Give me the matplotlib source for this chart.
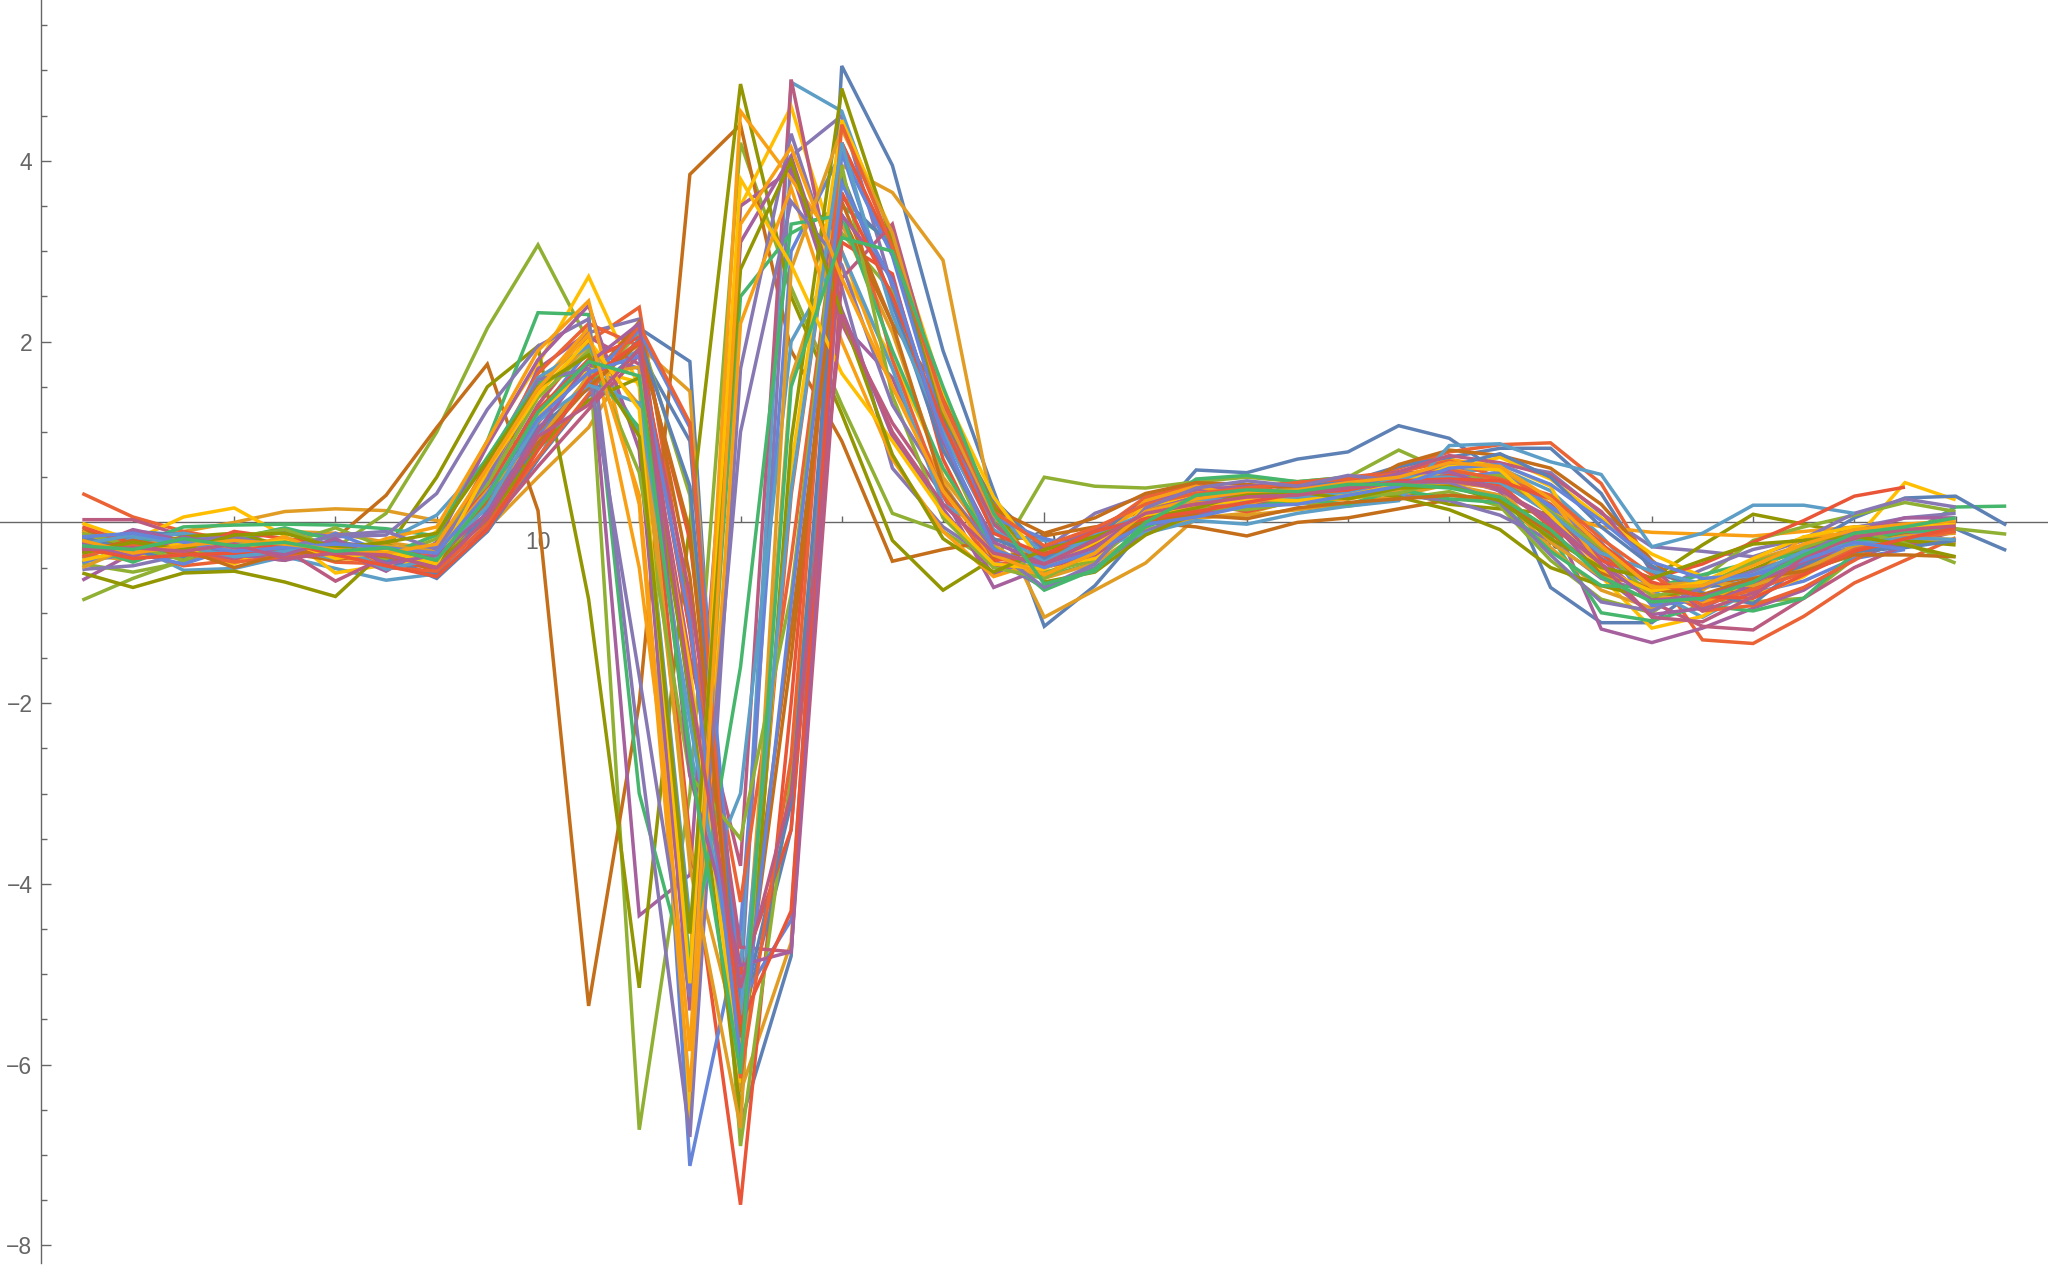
import matplotlib
matplotlib.use("Agg")
import matplotlib.pyplot as plt

s00=[-0.30,-0.35,-0.38,-0.33,-0.28,-0.32,-0.40,-0.42,0.10,0.85, 1.60,2.15,1.78,-6.65,-4.80,5.05,3.95,1.90,0.35,-1.15, -0.70,-0.05,0.58,0.55,0.70,0.78,1.07,0.93,0.55,-0.72, -1.11,-1.11,-0.70,-0.45,-0.30,-0.20,-0.10,-0.07,-0.31]
s01=[-0.10,-0.20,-0.10,0.00,0.12,0.15,0.13,0.02,-0.07,0.50, 1.05,1.95,1.45,-6.30,-4.65,3.95,3.65,2.90,0.10,-1.05, -0.75,-0.45,0.05,0.10,0.25,0.30,0.40,0.55,0.60,0.20, -0.30,-0.70,-0.80,-0.70,-0.55,-0.35,-0.25,-0.20]
s02=[-0.86,-0.62,-0.42,-0.32,-0.20,-0.28,0.10,1.00,2.15,3.07, 2.00,-6.72,-3.00,4.20,2.60,1.30,0.10,-0.10,-0.45,0.50, 0.40,0.38,0.45,0.50,0.45,0.50,0.80,0.55,0.45,0.15, -0.30,-0.70,-0.85,-0.88,-0.84,-0.40,-0.20,-0.07,-0.13]
s03=[0.32,0.06,-0.10,-0.20,-0.30,-0.33,-0.40,-0.48,0.30,1.30, 2.00,2.38,-1.00,-6.00,0.30,4.20,3.00,1.30,0.20,-0.30, -0.10,0.15,0.30,0.38,0.45,0.45,0.60,0.78,0.86,0.88, 0.43,-0.50,-1.30,-1.34,-1.04,-0.67,-0.42,-0.17]
s04=[-0.25,-0.28,-0.35,-0.30,-0.22,-0.28,-0.33,-0.35,0.40,1.50, 2.10,2.25,-2.00,-5.20,4.05,4.50,2.60,1.00,0.00,-0.30, 0.10,0.30,0.35,0.30,0.35,0.40,0.50,0.55,0.65,0.55, 0.10,-0.27,-0.32,-0.38,-0.20,-0.10,-0.08,-0.05]
s05=[-0.22,-0.15,-0.28,-0.35,-0.42,-0.18,0.30,1.05,1.75,0.13, -5.35,-2.00,3.85,4.40,1.90,0.90,-0.43,-0.30,-0.20,-0.15, -0.05,0.00,-0.05,-0.15,0.00,0.05,0.15,0.25,0.30,-0.10, -0.55,-0.75,-0.70,-0.60,-0.40,-0.30,-0.25,-0.20]
s06=[-0.22,-0.25,-0.53,-0.51,-0.38,-0.51,-0.64,-0.57,-0.10,0.70, 1.65,1.90,-2.50,-5.00,4.87,4.55,3.00,1.10,0.10,-0.35, -0.20,0.10,0.20,0.28,0.25,0.30,0.38,0.55,0.60,0.35, -0.15,-0.75,-1.05,-0.75,-0.45,-0.30,-0.22,-0.19]
s07=[-0.01,-0.20,0.06,0.16,-0.15,-0.56,-0.47,-0.10,0.90,1.75, 2.72,1.50,-6.60,3.50,4.60,2.80,1.80,0.60,-0.35,-0.60, -0.20,0.20,0.35,0.30,0.28,0.32,0.40,0.60,0.65,0.40, -0.60,-1.17,-1.04,-0.70,-0.40,-0.20,0.44,0.25]
s08=[-0.64,-0.34,-0.30,-0.38,-0.34,-0.22,-0.28,-0.45,0.50,1.70, 2.10,-4.35,-3.90,3.50,3.90,2.20,1.60,0.30,-0.72,-0.50, -0.30,0.05,0.15,0.22,0.28,0.35,0.45,0.50,0.45,0.10, -1.18,-1.33,-1.17,-0.95,-0.75,-0.40,-0.20,-0.10]
s09=[-0.56,-0.72,-0.56,-0.54,-0.66,-0.82,-0.30,0.50,1.50,1.95, -0.85,-5.15,0.00,4.85,2.50,1.20,-0.20,-0.75,-0.40,-0.30, -0.10,0.05,0.10,0.20,0.25,0.30,0.35,0.20,0.15,0.10, -0.40,-0.62,-0.25,0.09,-0.02,-0.13]
s10=[-0.30,-0.32,-0.40,-0.36,-0.30,-0.36,-0.45,-0.50,0.20,1.10, 1.80,2.05,-3.50,-7.55,-2.00,4.20,3.00,1.20,0.00,-0.50, -0.35,0.05,0.20,0.25,0.25,0.35,0.48,0.50,0.40,0.20, -0.35,-0.70,-0.85,-0.75,-0.45,-0.15,-0.08,-0.05]
s11=[-0.12,-0.18,-0.30,-0.26,-0.20,-0.25,-0.33,-0.42,0.25,1.20, 1.90,1.70,-7.12,-4.50,3.00,4.10,2.40,1.00,-0.10,-0.45, -0.25,0.00,0.15,0.20,0.25,0.30,0.40,0.50,0.55,0.15, -0.40,-0.70,-0.80,-0.78,-0.65,-0.40,-0.30]
s12=[-0.18,-0.30,-0.28,-0.18,-0.30,-0.40,-0.42,-0.28,0.50,1.50, 2.15,-0.50,-4.90,4.55,3.80,3.00,1.50,0.45,-0.45,-0.60, -0.30,0.10,0.30,0.35,0.30,0.40,0.55,0.70,0.60,0.10, -0.05,-0.11,-0.13,-0.15,-0.10,-0.05,-0.02,0.00]
s13=[0.03,0.03,-0.15,-0.22,-0.30,-0.65,-0.38,-0.30,0.35,1.30, 2.05,1.75,-1.50,-3.80,4.90,2.20,1.10,0.30,-0.50,-0.40, -0.10,0.05,0.25,0.30,0.35,0.40,0.42,0.50,0.35,0.05, -0.40,-0.88,-1.15,-1.19,-0.84,-0.50,-0.25,-0.10]
s14=[-0.45,-0.25,-0.05,-0.03,-0.02,-0.03,-0.07,-0.15,0.90,2.32, 2.30,-3.00,-5.10,2.50,3.20,3.50,3.10,1.30,0.00,-0.60, -0.45,0.10,0.48,0.52,0.45,0.50,0.45,0.40,0.30,-0.15, -1.00,-1.09,-0.92,-0.98,-0.84,-0.34,-0.15,0.17,0.18]
s15=[-0.24,-0.10,-0.14,-0.22,-0.30,-0.26,-0.38,-0.62,-0.10,0.70, 1.40,1.90,0.90,-5.60,-3.40,3.60,3.05,1.15,0.25,-0.30, -0.15,0.25,0.38,0.30,0.40,0.45,0.62,0.72,0.82,0.82, 0.32,-0.55,-0.72,-0.65,-0.28,0.05,0.27,0.29,-0.03]
s16=[-0.36,-0.42,-0.25,-0.15,-0.10,-0.12,-0.22,-0.30,0.55,1.45, 1.95,1.30,-3.60,-5.80,1.60,3.30,2.10,0.50,-0.25,-0.62, -0.45,-0.08,0.05,0.08,0.14,0.20,0.30,0.42,0.30,-0.28, -0.75,-0.95,-0.75,-0.42,-0.25,-0.10,-0.18,-0.22]
s17=[-0.46,-0.55,-0.44,-0.30,-0.24,-0.06,-0.28,-0.48,0.20,0.95, 1.50,2.10,0.30,-6.90,-2.80,3.20,2.55,0.85,-0.35,-0.55, -0.42,0.02,0.18,0.26,0.22,0.18,0.26,0.34,0.18,-0.42, -0.85,-1.00,-0.62,-0.20,-0.05,0.08,0.22,0.12]
s18=[-0.14,-0.30,-0.48,-0.42,-0.28,-0.44,-0.46,-0.34,0.65,1.65, 2.20,1.95,-1.20,-4.20,-0.40,3.85,1.80,0.30,-0.48,-0.35, -0.12,0.28,0.42,0.34,0.44,0.50,0.56,0.68,0.50,0.28, -0.30,-0.68,-0.98,-0.92,-0.72,-0.42,-0.10,-0.02]
s19=[-0.52,-0.48,-0.36,-0.20,-0.10,-0.16,-0.14,0.32,1.25,1.95, 2.25,-2.50,-6.80,1.70,4.30,2.60,0.60,-0.05,-0.42,-0.72, -0.50,-0.10,0.12,0.28,0.36,0.44,0.30,0.24,0.08,-0.20, -0.62,-0.78,-0.52,-0.30,-0.18,0.10,0.26,0.17]
s20=[-0.08,-0.22,-0.38,-0.18,-0.34,-0.42,-0.30,-0.56,0.08,1.00, 1.55,2.22,-0.60,-5.40,-1.20,3.40,2.20,1.40,0.15,-0.12, 0.05,0.32,0.44,0.42,0.38,0.34,0.64,0.80,0.74,0.60, 0.20,-0.42,-0.88,-0.70,-0.50,-0.25,-0.12,-0.08]
s21=[-0.40,-0.18,-0.12,-0.22,-0.30,-0.40,-0.20,0.08,0.70,1.60, 1.95,1.00,-4.40,-3.00,2.00,3.00,1.70,0.20,-0.12,-0.20, -0.28,-0.12,0.02,-0.02,0.10,0.18,0.24,0.85,0.87,0.67, 0.53,-0.27,-0.12,0.19,0.19,0.10]
s22=[-0.20,-0.36,-0.28,-0.46,-0.22,-0.34,-0.50,-0.36,0.30,1.20, 1.70,1.55,-1.60,-6.20,0.60,4.45,3.20,1.45,0.28,-0.48, -0.40,0.18,0.30,0.22,0.30,0.28,0.52,0.58,0.72,0.48, 0.05,-0.35,-0.60,-0.82,-0.60,-0.22,-0.16,-0.19]
s23=[-0.30,-0.08,-0.20,-0.36,-0.42,-0.30,-0.54,-0.22,0.85,1.80, 2.40,0.80,-5.40,3.10,4.05,2.35,0.95,0.15,-0.58,-0.28, -0.08,0.22,0.36,0.40,0.42,0.36,0.48,0.66,0.34,0.02, -0.58,-1.02,-0.95,-0.68,-0.32,-0.05,-0.02,-0.10]
s24=[-0.18,-0.28,-0.16,-0.12,-0.26,-0.34,-0.24,-0.44,0.02,0.82, 1.35,1.60,-1.90,-6.55,0.90,4.80,3.10,1.20,0.18,-0.66, -0.55,-0.14,0.10,0.18,0.26,0.38,0.28,0.14,-0.08,-0.50, -0.70,-0.84,-0.72,-0.52,-0.28,-0.10,-0.20,-0.25]
s25=[-0.05,-0.24,-0.32,-0.10,-0.18,-0.24,-0.44,-0.38,0.40,1.25, 1.80,2.05,-0.20,-5.00,-3.40,3.10,2.75,0.70,-0.42,-0.38, -0.20,0.08,0.22,0.12,0.24,0.34,0.44,0.52,0.42,-0.05, -0.42,-0.62,-0.46,-0.22,0.02,0.29,0.39]
s26=[-0.44,-0.34,-0.46,-0.28,-0.36,-0.12,-0.34,-0.28,0.15,0.95, 1.60,2.12,1.05,-5.30,-4.40,4.10,2.95,1.05,0.05,-0.18, -0.30,0.12,0.28,0.36,0.32,0.44,0.38,0.46,0.56,0.18, -0.22,-0.92,-0.86,-0.60,-0.40,-0.28,-0.15,-0.07]
s27=[-0.10,-0.40,-0.22,-0.30,-0.16,-0.38,-0.18,-0.05,0.90,1.90, 2.45,0.20,-6.30,2.20,3.70,2.00,0.70,-0.10,-0.60,-0.42, -0.24,0.24,0.40,0.28,0.22,0.26,0.34,0.60,0.46,0.28, -0.48,-0.80,-0.90,-0.62,-0.16,-0.12,-0.08,-0.02]
s28=[-0.34,-0.20,-0.34,-0.40,-0.26,-0.36,-0.30,-0.52,-0.05,0.62, 1.25,1.85,-0.80,-4.70,-4.75,2.70,3.30,1.30,-0.02,-0.50, -0.36,0.00,0.08,0.20,0.30,0.46,0.56,0.74,0.66,0.52, 0.12,-0.50,-0.98,-0.78,-0.50,-0.18,-0.05,0.00]
s29=[-0.26,-0.44,-0.24,-0.18,-0.06,-0.20,-0.36,-0.14,0.72,1.55, 1.70,1.05,-4.90,-1.60,3.30,3.40,1.90,0.60,-0.28,-0.75, -0.52,-0.05,0.14,0.16,0.26,0.20,0.36,0.26,0.22,-0.32, -0.70,-0.72,-0.58,-0.44,-0.34,-0.22,-0.10,-0.08]
s30=[-0.16,-0.32,-0.40,-0.24,-0.30,-0.22,-0.42,-0.58,0.12,1.05, 1.48,2.02,0.40,-5.50,-3.10,3.85,2.45,0.80,-0.18,-0.40, -0.18,-0.02,0.20,0.32,0.28,0.42,0.46,0.62,0.76,0.50, -0.05,-0.48,-0.78,-0.90,-0.46,-0.32,-0.28,-0.20]
s31=[-0.50,-0.26,-0.18,-0.30,-0.24,-0.30,-0.26,-0.32,0.35,0.90, 1.62,1.72,-3.80,-6.70,2.80,4.35,3.20,1.25,0.08,-0.58, -0.34,0.14,0.24,0.20,0.34,0.30,0.36,0.44,0.38,-0.22, -0.60,-0.70,-0.66,-0.70,-0.52,-0.26,-0.15,-0.12]
s32=[-0.12,-0.26,-0.42,-0.16,-0.08,-0.28,-0.40,-0.18,0.42,1.38, 1.90,0.55,-2.80,-3.50,-0.80,3.95,1.40,0.05,-0.50,-0.62, -0.32,0.06,0.16,0.14,0.22,0.28,0.32,0.48,0.52,0.12, -0.28,-0.82,-0.70,-0.44,-0.28,-0.08,-0.23,-0.45]
s33=[-0.38,-0.24,-0.34,-0.44,-0.38,-0.26,-0.50,-0.54,-0.02,0.72, 1.42,2.18,1.10,-6.15,-2.60,4.40,3.05,1.35,0.12,-0.26, -0.06,0.20,0.32,0.38,0.44,0.48,0.54,0.58,0.48,0.30, -0.18,-0.58,-0.92,-0.74,-0.56,-0.30,-0.18,-0.10]
s34=[-0.28,-0.36,-0.20,-0.16,-0.28,-0.14,-0.10,-0.30,0.48,1.58, 1.70,-1.70,-5.25,1.00,3.55,2.85,1.30,0.40,-0.30,-0.72, -0.46,0.16,0.38,0.46,0.40,0.52,0.46,0.44,0.22,-0.36, -0.88,-0.98,-0.72,-0.54,-0.36,-0.06,0.05,0.10]
s35=[-0.32,-0.20,-0.30,-0.50,-0.34,-0.32,-0.38,-0.44,0.22,0.88, 1.50,1.98,-0.10,-5.70,-1.50,3.55,2.20,0.40,-0.38,-0.34, -0.26,0.02,0.08,0.04,0.16,0.22,0.26,0.30,0.26,-0.12, -0.56,-0.74,-0.80,-0.62,-0.54,-0.36,-0.36,-0.38]
s36=[-0.24,-0.14,-0.26,-0.38,-0.32,-0.24,-0.52,-0.40,0.18,1.12, 1.52,1.32,-2.20,-5.45,0.35,4.20,2.30,1.00,-0.08,-0.44, -0.14,0.10,0.26,0.24,0.28,0.32,0.50,0.50,0.44,0.10, -0.34,-0.54,-0.68,-0.58,-0.32,-0.24,-0.17,-0.19]
s37=[-0.42,-0.30,-0.24,-0.26,-0.20,-0.40,-0.32,-0.46,0.58,1.42, 2.02,1.25,-5.10,3.80,2.85,1.65,0.90,0.10,-0.46,-0.52, -0.22,0.08,0.18,0.26,0.24,0.30,0.42,0.62,0.58,0.08, -0.52,-0.76,-0.66,-0.40,-0.16,-0.05,-0.05,-0.02]
s38=[-0.22,-0.38,-0.16,-0.28,-0.36,-0.18,-0.46,-0.36,0.10,1.02, 1.76,2.20,-2.80,-4.90,-4.75,3.40,2.70,0.90,-0.22,-0.46, -0.28,0.12,0.28,0.30,0.36,0.40,0.54,0.56,0.36,0.02, -0.46,-0.86,-0.82,-0.66,-0.44,-0.10,0.05,0.05]
s39=[-0.34,-0.22,-0.30,-0.14,-0.12,-0.28,-0.22,-0.12,0.68,1.50, 1.85,0.95,-4.55,2.80,4.00,2.30,0.75,-0.18,-0.55,-0.30, -0.16,0.04,0.16,0.32,0.34,0.26,0.38,0.40,0.24,-0.18, -0.50,-0.62,-0.42,-0.24,-0.20,-0.15,-0.25,-0.38]
s40=[-0.28,-0.40,-0.36,-0.34,-0.22,-0.36,-0.48,-0.60,-0.08,0.80, 1.58,2.00,-1.20,-5.55,-4.30,3.65,2.50,1.10,-0.12,-0.36, -0.10,0.04,0.12,0.22,0.32,0.36,0.46,0.48,0.46,0.26, -0.24,-0.66,-0.82,-0.84,-0.58,-0.32,-0.18,-0.06]
s41=[-0.16,-0.12,-0.22,-0.32,-0.28,-0.24,-0.28,-0.34,0.32,1.15, 1.66,1.84,-1.10,-5.95,-0.90,3.75,2.65,0.95,-0.30,-0.50, -0.32,-0.02,0.06,0.18,0.20,0.30,0.40,0.60,0.64,0.42, 0.02,-0.44,-0.62,-0.58,-0.42,-0.22,-0.30]
s42=[-0.20,-0.34,-0.26,-0.20,-0.24,-0.30,-0.34,-0.24,0.60,1.48, 2.08,0.30,-5.85,3.30,4.15,2.70,1.50,0.35,-0.36,-0.58, -0.34,0.12,0.26,0.34,0.36,0.44,0.50,0.66,0.62,0.26, -0.26,-0.72,-0.70,-0.48,-0.24,-0.08,-0.02,0.02]
s43=[-0.30,-0.28,-0.32,-0.24,-0.40,-0.34,-0.36,-0.50,0.04,0.95, 1.30,1.92,-1.80,-5.15,-3.00,2.30,1.00,0.20,-0.34,-0.46, -0.20,0.10,0.20,0.28,0.30,0.38,0.44,0.46,0.38,-0.02, -0.46,-1.05,-1.10,-0.82,-0.38,-0.16,-0.08,-0.04]
s44=[-0.26,-0.30,-0.18,-0.26,-0.22,-0.32,-0.28,-0.42,0.28,1.22, 1.78,1.62,-2.60,-6.10,1.50,3.15,3.00,1.50,0.10,-0.68, -0.54,0.00,0.30,0.36,0.34,0.42,0.42,0.38,0.28,-0.08, -0.60,-0.88,-0.84,-0.66,-0.36,-0.12,-0.05,0.05]

series=[s00,s01,s02,s03,s04,s05,s06,s07,s08,s09,s10,s11,s12,s13,s14,s15,s16,s17,s18,s19,s20,s21,s22,s23,s24,s25,s26,s27,s28,s29,s30,s31,s32,s33,s34,s35,s36,s37,s38,s39,s40,s41,s42,s43,s44]
palette=['#5E81B5','#E19C24','#8FB032','#EB6235','#8778B3','#C56E1A','#5D9EC7','#FFBF00','#A5609D','#929600','#E95536','#6685D9','#F89F13','#BC5B80','#47B66D']
x_major=[10,20,30]
x_minor=[2,4,6,8,12,14,16,18,22,24,26,28,32,34,36,38]
y_major=[-8,-6,-4,-2,2,4]
y_minor=[-7.5,-7,-6.5,-5.5,-5,-4.5,-3.5,-3,-2.5,-1.5,-1,-0.5,0.5,1,1.5,2.5,3,3.5,4.5,5,5.5]

plt.rcParams['font.family']=['Liberation Sans','DejaVu Sans']
fig=plt.figure(figsize=(20.48,12.68),dpi=100)
ax=fig.add_axes([0,0,1,1])
ax.set_xlim(-0.626,39.825)
ax.set_ylim(-8.25,5.78)
for i,s in enumerate(series):
    ax.plot(range(1,len(s)+1),s,color=palette[i%15],lw=2.5,solid_joinstyle='miter',solid_capstyle='butt',zorder=3)
gray='#666666'
for sp in ['top','right']:
    ax.spines[sp].set_visible(False)
ax.spines['left'].set_position(('data',0.18))
ax.spines['bottom'].set_position(('data',0))
ax.spines['left'].set_color(gray); ax.spines['bottom'].set_color(gray)
ax.spines['left'].set_linewidth(1.0); ax.spines['bottom'].set_linewidth(1.0)
ax.spines['left'].set_bounds(-8.2,5.78)
ax.set_xticks(x_major); ax.set_xticks(x_minor,minor=True)
ax.set_yticks(y_major); ax.set_yticks(y_minor,minor=True)
ax.set_yticklabels(['\u22128','\u22126','\u22124','\u22122','2','4'])
ax.tick_params(axis='both',which='major',direction='in',length=7,width=1,color=gray,labelcolor=gray,labelsize=16.5,pad=6)
ax.tick_params(axis='both',which='minor',direction='in',length=4.5,width=1,color=gray)
fig.savefig('out.png',dpi=100)
